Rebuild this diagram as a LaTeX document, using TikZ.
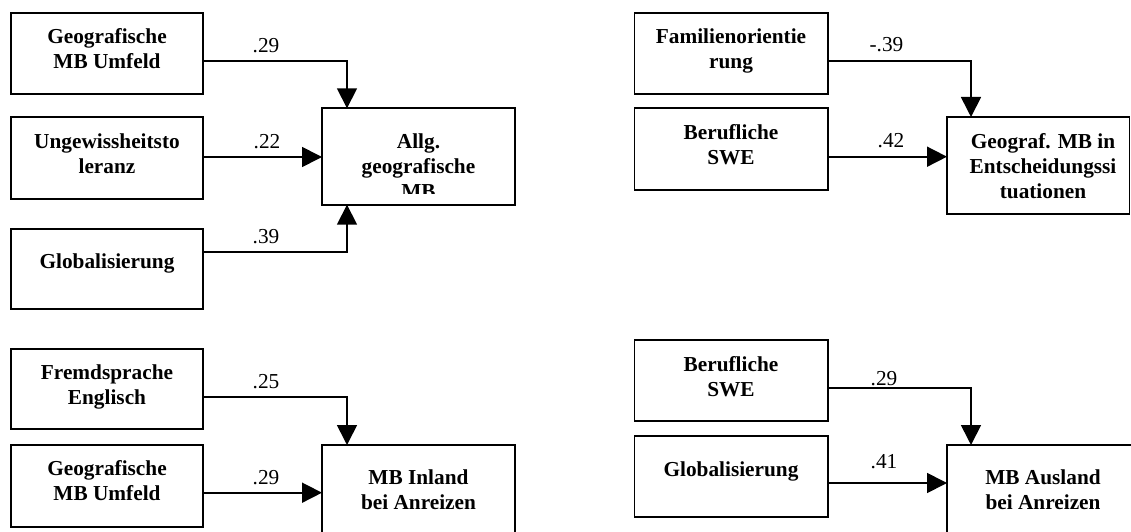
\documentclass[tikz,border=0pt]{standalone}
\usepackage{fontspec}
\setmainfont{Liberation Serif}
\usetikzlibrary{arrows.meta}
\newcommand{\mlines}[1]{\begin{tabular}[t]{@{}c@{}}#1\end{tabular}}
\tikzset{
  box/.style={draw, line width=1.7pt, inner sep=0pt, outer sep=0pt, anchor=north west},
  txt/.style={inner sep=0pt, anchor=base, font=\fontsize{21.3pt}{25pt}\selectfont\bfseries},
  lbl/.style={inner sep=0pt, anchor=base, font=\fontsize{21.3pt}{25pt}\selectfont},
  arr/.style={line width=1.7pt, -{Triangle[length=20pt,width=20pt]}}
}
\begin{document}
\begin{tikzpicture}[x=1pt,y=-1pt]
\clip (0,0) rectangle (1131,532);
% ---------- top left ----------
\node[box, minimum width=192pt, minimum height=81pt] (a1) at (11,12.7) {};
\node[box, minimum width=192pt, minimum height=81.7pt] (a2) at (11,117.3) {};
\node[box, minimum width=192pt, minimum height=80.6pt] (a3) at (11,228.7) {};
\node[box, minimum width=193pt, minimum height=96.4pt] (at) at (322,108.3) {};
\node[txt] (a1t) at (107,43.3) {\mlines{Geografische\\MB Umfeld}};
\node[txt] (a2t) at (107,148.5) {\mlines{Ungewissheitsto\\leranz}};
\node[txt] (a3t) at (107,268.3) {Globalisierung};
\begin{scope}
\clip (322,108.3) rectangle (515,193.3);
\node[txt] (att) at (418.5,148.3) {\mlines{Allg.\\geografische\\MB}};
\end{scope}
\draw[arr] (a1.east |- 0,61) -| ([xshift=25pt]at.north west);
\draw[arr] (a2.east |- 0,157) -- (at.west |- 0,157);
\draw[arr] (a3.east |- 0,252) -| ([xshift=25pt]at.south west);
\node[lbl] (l1) at (266,52.7) {.29};
\node[lbl] (l2) at (267,148.3) {.22};
\node[lbl] (l3) at (266,243.3) {.39};
% ---------- top right ----------
\node[box, minimum width=193.2pt, minimum height=81pt] (b1) at (634.5,12.7) {};
\node[box, minimum width=193.2pt, minimum height=81.7pt] (b2) at (634.5,108.3) {};
\node[box, minimum width=182.5pt, minimum height=97pt] (bt) at (947,117) {};
\node[txt] (b1t) at (731,43.3) {\mlines{Familienorientie\\rung}};
\node[txt] (b2t) at (731,139.3) {\mlines{Berufliche\\SWE}};
\node[txt] (btt) at (1043,148.3) {\mlines{Geograf. MB in\\Entscheidungssi\\tuationen}};
\draw[arr] (b1.east |- 0,61) -| ([xshift=24pt]bt.north west);
\draw[arr] (b2.east |- 0,156.7) -- (bt.west |- 0,156.7);
\node[lbl] (l4) at (886.5,51.7) {-.39};
\node[lbl] (l5) at (891,147.3) {.42};
% ---------- bottom left ----------
\node[box, minimum width=192pt, minimum height=80.3pt] (c1) at (11,349) {};
\node[box, minimum width=192pt, minimum height=81.7pt] (c2) at (11,445) {};
\node[box, minimum width=193pt, minimum height=100pt] (ct) at (322,445) {};
\node[txt] (c1t) at (107,379.3) {\mlines{Fremdsprache\\Englisch}};
\node[txt] (c2t) at (107,475.7) {\mlines{Geografische\\MB Umfeld}};
\node[txt] (ctt) at (418.5,484.3) {\mlines{MB Inland\\bei Anreizen}};
\draw[arr] (c1.east |- 0,396.7) -| ([xshift=25pt]ct.north west);
\draw[arr] (c2.east |- 0,492.7) -- (ct.west |- 0,492.7);
\node[lbl] (l6) at (266,388.3) {.25};
\node[lbl] (l7) at (266,484.3) {.29};
% ---------- bottom right ----------
\node[box, minimum width=193.2pt, minimum height=80.7pt] (d1) at (634.5,340) {};
\node[box, minimum width=193.2pt, minimum height=81.6pt] (d2) at (634.5,435.7) {};
\node[box, minimum width=194pt, minimum height=100pt] (dt) at (947,445) {};
\node[txt] (d1t) at (731,371) {\mlines{Berufliche\\SWE}};
\node[txt] (d2t) at (731,476.5) {Globalisierung};
\node[txt] (dtt) at (1043,484.3) {\mlines{MB Ausland\\bei Anreizen}};
\draw[arr] (d1.east |- 0,388.3) -| ([xshift=24pt]dt.north west);
\draw[arr] (d2.east |- 0,483) -- (dt.west |- 0,483);
\node[lbl] (l8) at (884,385) {.29};
\node[lbl] (l9) at (884,468) {.41};
\end{tikzpicture}
\end{document}
